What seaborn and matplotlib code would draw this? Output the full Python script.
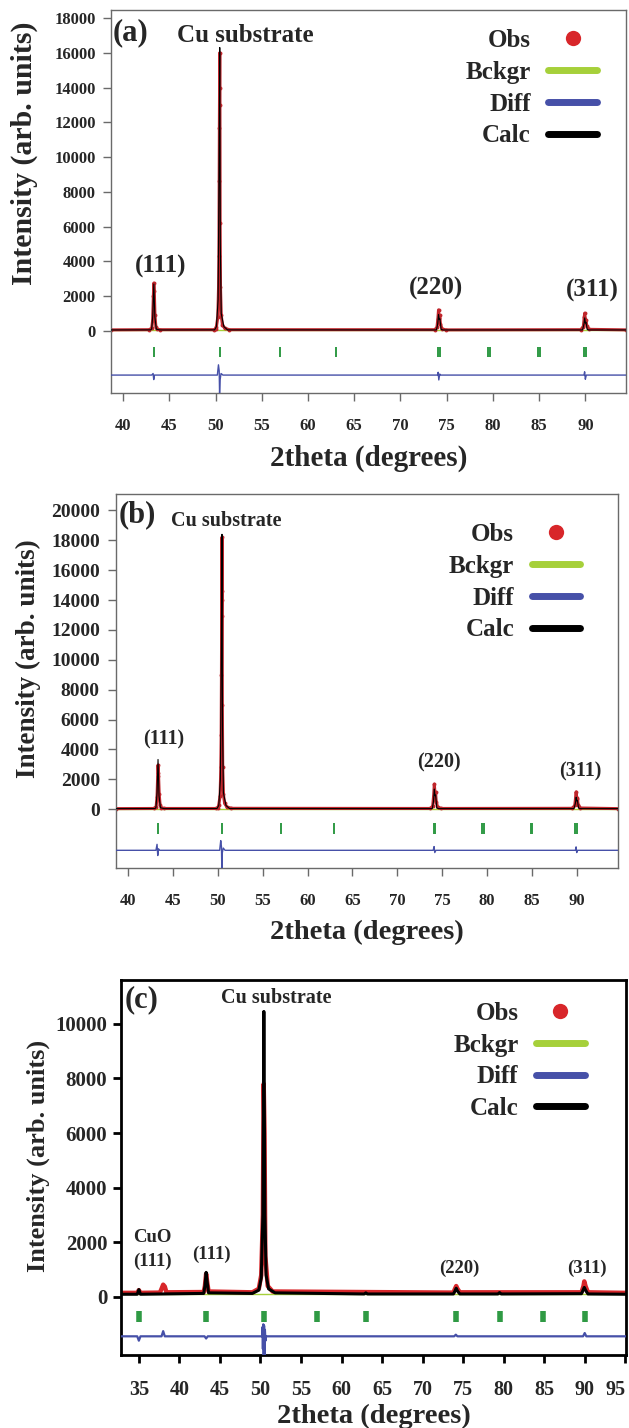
import matplotlib
matplotlib.use("Agg")
import matplotlib.pyplot as plt
from matplotlib.lines import Line2D
import seaborn as sns

# ---------------------------------------------------------------- data
# Panel (a)
a_obs_x = [38.7, 42.8, 43.10, 43.20, 43.28, 43.33, 43.38, 43.45, 43.55, 43.7, 44.0,
           49.8, 50.0, 50.10, 50.25, 50.33, 50.37, 50.40, 50.42, 50.44, 50.46, 50.48, 50.50,
           50.54, 50.62, 50.75, 51.0, 51.5, 73.7, 73.95, 74.05, 74.12, 74.18, 74.25,
           74.32, 74.5, 74.9, 89.5, 89.78, 89.88, 89.93, 89.99, 90.06, 90.15, 90.4, 94.4]
a_obs_y = [60, 70, 150, 600, 2000, 2750, 2300, 900, 250, 100, 70,
           70, 120, 250, 800, 2500, 4300, 8600, 11700, 14000, 16000, 13000, 6200,
           2500, 900, 350, 150, 70, 70, 200, 700, 1210, 750, 900,
           400, 120, 60, 70, 250, 800, 1020, 600, 650, 300, 90, 60]
a_calc_x = [38.7, 43.0, 43.10, 43.22, 43.33, 43.44, 43.6, 44.0, 49.9, 50.10, 50.28, 50.38,
            50.46, 50.52, 50.62, 50.9, 51.3, 73.8, 73.9, 74.03, 74.12, 74.2, 74.27, 74.4,
            74.6, 89.6, 89.7, 89.85, 89.93, 90.0, 90.07, 90.2, 90.4, 94.4]
a_calc_y = [55, 60, 120, 900, 2700, 800, 100, 55, 60, 250, 1800, 9000,
            16300, 5000, 1000, 250, 60, 55, 60, 400, 950, 650, 700, 90,
            55, 55, 60, 400, 750, 450, 500, 80, 55, 55]
a_diff_x = [38.7, 43.1, 43.25, 43.32, 43.4, 50.2, 50.32, 50.40, 50.44, 50.50, 50.6,
            50.8, 74.0, 74.08, 74.15, 74.25, 74.35, 89.85, 89.92, 90.0, 90.1, 94.4]
a_diff_y = [-2540, -2540, -2450, -2800, -2540, -2540, -1950, -2300, -3600, -2800, -2450,
            -2540, -2540, -2380, -2820, -2480, -2540, -2540, -2350, -2780, -2540, -2540]
a_bkg_x = [38.7, 94.4]
a_bkg_y = [40, 40]
a_bragg = [43.35, 50.45, 57.0, 63.0, 74.05, 74.25, 79.45, 79.65, 84.85, 85.05, 89.85, 90.05]

# Panel (b)
b_obs_x = [38.7, 42.9, 43.12, 43.22, 43.29, 43.33, 43.38, 43.46, 43.56, 43.7, 44.0,
           49.8, 50.0, 50.10, 50.25, 50.33, 50.37, 50.40, 50.42, 50.44, 50.46, 50.48, 50.50,
           50.54, 50.62, 50.75, 51.0, 51.5, 73.7, 73.95, 74.05, 74.13, 74.19, 74.26,
           74.34, 74.5, 74.9, 89.5, 89.78, 89.88, 89.94, 90.0, 90.07, 90.16, 90.4, 94.6]
b_obs_y = [40, 50, 180, 800, 2200, 2950, 2400, 1000, 280, 100, 50,
           50, 110, 280, 900, 2800, 5000, 9000, 12900, 14600, 18200, 14000, 7000,
           2800, 1000, 400, 150, 60, 50, 220, 900, 1680, 1100, 1150,
           500, 120, 50, 60, 250, 800, 1160, 700, 720, 300, 80, 40]
b_calc_x = [38.7, 43.0, 43.10, 43.22, 43.33, 43.44, 43.6, 44.0, 49.9, 50.10, 50.28, 50.38,
            50.46, 50.52, 50.62, 50.9, 51.3, 73.8, 73.9, 74.03, 74.13, 74.2, 74.27, 74.4,
            74.6, 89.6, 89.7, 89.85, 89.94, 90.0, 90.07, 90.2, 90.4, 94.6]
b_calc_y = [40, 45, 120, 1100, 3330, 900, 100, 40, 45, 250, 2000, 10000,
            18400, 5500, 1100, 250, 45, 40, 45, 500, 1350, 900, 950, 90,
            40, 40, 45, 400, 800, 550, 600, 80, 40, 40]
b_diff_x = [38.7, 43.1, 43.22, 43.30, 43.38, 43.5, 50.2, 50.32, 50.40, 50.44, 50.50,
            50.6, 50.8, 74.0, 74.1, 74.18, 74.3, 89.85, 89.93, 90.0, 90.1, 94.6]
b_diff_y = [-2750, -2750, -2350, -3100, -2650, -2750, -2750, -2100, -2500, -3950, -2900,
            -2600, -2750, -2750, -2500, -2900, -2750, -2750, -2520, -2900, -2750, -2750]
b_bkg_x = [38.7, 94.6]
b_bkg_y = [30, 30]
b_bragg = [43.35, 50.45, 57.0, 63.0, 74.05, 74.25, 79.45, 79.65, 84.85, 85.05, 89.85, 90.05]

# Panel (c)
c_obs_x = [32.8, 34.8, 35.0, 35.2, 37.6, 37.8, 38.0, 38.2, 38.4, 43.0, 43.15, 43.3,
           43.45, 43.6, 49.0, 49.8, 50.1, 50.3, 50.4, 50.5, 50.6, 50.9, 51.5, 73.8, 74.0,
           74.15, 74.3, 74.6, 89.6, 89.85, 89.95, 90.1, 90.4, 95.1]
c_obs_y = [150, 150, 250, 150, 160, 300, 450, 380, 170, 180, 400, 850,
           500, 200, 170, 300, 800, 3000, 7800, 6000, 1500, 400, 200, 160, 300,
           400, 300, 170, 170, 400, 570, 400, 170, 150]
c_calc_x = [32.8, 34.8, 35.0, 35.2, 43.0, 43.15, 43.3, 43.45, 43.6, 49.0, 49.8, 50.1, 50.3,
            50.42, 50.55, 50.7, 51.0, 51.8, 62.8, 63.0, 63.2, 73.8, 74.0, 74.15, 74.3,
            74.6, 79.3, 79.5, 79.7, 89.6, 89.85, 89.95, 90.1, 90.4, 95.1]
c_calc_y = [100, 100, 270, 100, 130, 400, 900, 500, 150, 130, 250, 700, 3000,
            10450, 3000, 800, 300, 150, 110, 150, 110, 110, 220, 320, 220,
            110, 110, 160, 110, 120, 280, 350, 250, 110, 100]
c_diff_x = [32.8, 34.8, 35.0, 35.2, 37.8, 38.0, 38.2, 43.1, 43.3, 43.5, 50.2, 50.25,
            50.3, 50.35, 50.4, 50.45, 50.5, 50.55, 50.62, 50.7, 73.9, 74.1, 74.3, 89.8,
            90.0, 90.2, 95.1]
c_diff_y = [-1440, -1440, -1600, -1440, -1440, -1250, -1440, -1440, -1520, -1440, -1440, -1100,
            -1900, -1000, -2150, -1050, -2150, -1200, -1600, -1440, -1440, -1380, -1440, -1440,
            -1320, -1440, -1440]
c_bkg_x = [32.8, 95.1]
c_bkg_y = [110, 110]
c_bragg = [35.0, 43.3, 50.45, 57.0, 63.0, 74.1, 79.5, 84.8, 90.0]

# ---------------------------------------------------------------- style
sns.set_theme(style="ticks")
plt.rcParams["font.family"] = ["Liberation Serif", "DejaVu Serif"]
plt.rcParams["font.weight"] = "bold"
plt.rcParams["axes.labelweight"] = "bold"

OBS = "#d8262a"
OBS_DARK = "#c0262c"
BKG = "#a6d03a"
DIFF = "#4650a8"
BRAGG = "#2f9a44"
CALC = "#000000"

fig = plt.figure(figsize=(6.29, 14.28), dpi=100)

panels = [
    dict(rect=[0.1765, 0.7248, 0.8188, 0.2682], tag="(a)",
         obs=(a_obs_x, a_obs_y), calc=(a_calc_x, a_calc_y), diff=(a_diff_x, a_diff_y),
         bkg=(a_bkg_x, a_bkg_y), bragg=a_bragg, bragg_span=(-950, -1520),
         xlim=(38.7, 94.4), ylim=(-3570, 18460),
         xticks=list(range(40, 95, 5)), yticks=list(range(0, 18001, 2000)),
         obs_color=OBS_DARK, obs_lw=2.2, obs_ms=2.8, calc_lw=0.8, diff_lw=1.0,
         bragg_lw=1.4, spine="#6a6a6a", spine_lw=1.0,
         ytick_fs=12, xtick_fs=12, ylab_fs=21.5, xlab_fs=21, ylab_pos=(-0.169, 0.627),
         xlab_y=-0.135,
         tag_pos=(38.85, 17170), tag_fs=22, cu_pos=(53.2, 17000), cu_fs=18,
         hkl=[("(111)", 44.1, 3690), ("(220)", 73.9, 2420), ("(311)", 90.8, 2300)],
         hkl_fs=18, leg_anchor=(0.944, 0.95), leg_fs=18, ypad=5, xpad=12),
    dict(rect=[0.1852, 0.3922, 0.7973, 0.2619], tag="(b)",
         obs=(b_obs_x, b_obs_y), calc=(b_calc_x, b_calc_y), diff=(b_diff_x, b_diff_y),
         bkg=(b_bkg_x, b_bkg_y), bragg=b_bragg, bragg_span=(-920, -1680),
         xlim=(38.7, 94.6), ylim=(-3930, 21100),
         xticks=list(range(40, 95, 5)), yticks=list(range(0, 20001, 2000)),
         obs_color=OBS_DARK, obs_lw=2.2, obs_ms=2.8, calc_lw=0.8, diff_lw=1.0,
         bragg_lw=1.4, spine="#6a6a6a", spine_lw=1.0,
         ytick_fs=14, xtick_fs=12, ylab_fs=19.5, xlab_fs=20.5, ylab_pos=(-0.176, 0.561),
         xlab_y=-0.14,
         tag_pos=(38.95, 19710), tag_fs=22, cu_pos=(50.9, 19260), cu_fs=14.5,
         hkl=[("(111)", 44.0, 4690), ("(220)", 74.6, 3150), ("(311)", 90.4, 2500)],
         hkl_fs=14.5, leg_anchor=(0.925, 0.922), leg_fs=18, ypad=6, xpad=12),
    dict(rect=[0.1924, 0.0511, 0.8029, 0.2626], tag="(c)",
         obs=(c_obs_x, c_obs_y), calc=(c_calc_x, c_calc_y), diff=(c_diff_x, c_diff_y),
         bkg=(c_bkg_x, c_bkg_y), bragg=c_bragg, bragg_span=(-530, -930),
         xlim=(32.8, 95.1), ylim=(-2125, 11600),
         xticks=list(range(35, 96, 5)), yticks=list(range(0, 10001, 2000)),
         obs_color=OBS, obs_lw=3.2, obs_ms=0, calc_lw=2.2, diff_lw=1.6,
         bragg_lw=4.0, spine="#000000", spine_lw=2.0,
         ytick_fs=15, xtick_fs=14.5, ylab_fs=19, xlab_fs=20.5, ylab_pos=(-0.164, 0.531),
         xlab_y=-0.13,
         tag_pos=(33.26, 10880), tag_fs=22, cu_pos=(51.9, 10940), cu_fs=14.5,
         hkl=[("CuO", 36.7, 2160), ("(111)", 36.7, 1300), ("(111)", 43.96, 1550),
              ("(220)", 74.48, 1060), ("(311)", 90.26, 1060)],
         hkl_fs=13.5, leg_anchor=(0.918, 0.942), leg_fs=18, ypad=4, xpad=12),
]

for p in panels:
    ax = fig.add_axes(p["rect"])

    # background, observed, calculated, difference curves
    sns.lineplot(x=p["bkg"][0], y=p["bkg"][1], ax=ax, color=BKG, lw=1.0,
                 sort=False, estimator=None, zorder=1)
    sns.lineplot(x=p["obs"][0], y=p["obs"][1], ax=ax, color=p["obs_color"],
                 lw=p["obs_lw"], marker="o" if p["obs_ms"] else None,
                 markersize=p["obs_ms"], markeredgewidth=0,
                 sort=False, estimator=None, zorder=2)
    sns.lineplot(x=p["calc"][0], y=p["calc"][1], ax=ax, color=CALC, lw=p["calc_lw"],
                 sort=False, estimator=None, zorder=3)
    sns.lineplot(x=p["diff"][0], y=p["diff"][1], ax=ax, color=DIFF, lw=p["diff_lw"],
                 sort=False, estimator=None, zorder=3)

    # Bragg reflection markers
    ax.vlines(p["bragg"], p["bragg_span"][1], p["bragg_span"][0],
              color=BRAGG, lw=p["bragg_lw"], zorder=3)

    ax.set_xlim(*p["xlim"])
    ax.set_ylim(*p["ylim"])
    ax.set_xticks(p["xticks"])
    ax.set_yticks(p["yticks"])
    xt = ax.set_xticklabels([str(t) for t in p["xticks"]], fontsize=p["xtick_fs"],
                            fontweight="bold")
    ax.set_yticklabels([str(t) for t in p["yticks"]], fontsize=p["ytick_fs"], fontweight="bold")
    # keep a label that sits on the right spine inside the figure
    if p["xticks"][-1] >= p["xlim"][1] - 0.5:
        xt[-1].set_ha("right")
    ax.tick_params(axis="both", direction="out", length=6, width=p["spine_lw"],
                   color=p["spine"])
    ax.tick_params(axis="x", pad=p["xpad"])
    ax.tick_params(axis="y", pad=p["ypad"])
    for s in ax.spines.values():
        s.set_visible(True)
        s.set_color(p["spine"])
        s.set_linewidth(p["spine_lw"])

    ax.set_xlabel("2theta (degrees)", fontsize=p["xlab_fs"], fontweight="bold")
    ax.set_ylabel("Intensity (arb. units)", fontsize=p["ylab_fs"], fontweight="bold")
    ax.xaxis.set_label_coords(0.5, p["xlab_y"])
    ax.yaxis.set_label_coords(*p["ylab_pos"])
    ax.yaxis.label.set_va("center")

    ax.text(*p["tag_pos"], p["tag"], fontsize=p["tag_fs"], fontweight="bold",
            ha="left", va="center")
    ax.text(*p["cu_pos"], "Cu substrate", fontsize=p["cu_fs"], fontweight="bold",
            ha="center", va="center")
    for label, x, y in p["hkl"]:
        ax.text(x, y, label, fontsize=p["hkl_fs"], fontweight="bold",
                ha="center", va="center")

    handles = [
        Line2D([], [], ls="none", marker="o", markersize=11, color=OBS, markeredgewidth=0),
        Line2D([], [], color=BKG, lw=5, solid_capstyle="round"),
        Line2D([], [], color=DIFF, lw=5, solid_capstyle="round"),
        Line2D([], [], color=CALC, lw=5, solid_capstyle="round"),
    ]
    ax.legend(handles, ["Obs", "Bckgr", "Diff", "Calc"], loc="upper right",
              bbox_to_anchor=p["leg_anchor"], frameon=False, markerfirst=False,
              prop=dict(family="Liberation Serif", weight="bold", size=p["leg_fs"]),
              handlelength=1.95, handletextpad=0.7, labelspacing=0.35,
              borderpad=0, borderaxespad=0)

fig.savefig("out.png", dpi=100)
